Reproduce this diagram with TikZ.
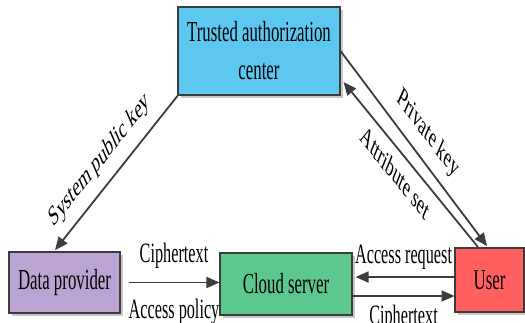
\documentclass[tikz,border=0pt]{standalone}
\usepackage{fontspec}
\setmainfont{Liberation Serif}
\usetikzlibrary{arrows.meta,calc,shadows}
\definecolor{tacblue}{HTML}{5CC8F0}
\definecolor{dpviolet}{HTML}{BBA3D3}
\definecolor{csgreen}{HTML}{5CC88E}
\definecolor{userred}{HTML}{FF5F5F}
\definecolor{edgegray}{HTML}{3C3C3C}
\begin{document}
\begin{tikzpicture}[x=1.7241pt,y=-1pt,xscale=0.58,transform shape,
  box/.style={draw=edgegray,line width=1.8pt,inner sep=0pt,align=center,
    font=\fontsize{29}{38}\selectfont,
    drop shadow={shadow xshift=3pt,shadow yshift=-3pt,fill=black!22,opacity=1}},
  arr/.style={draw=edgegray,line width=1.8pt,-{Triangle[length=13pt,width=11pt]}},
  lbl/.style={font=\fontsize{28}{32}\selectfont,inner sep=0pt}]
\useasboundingbox (0,0) rectangle (525,322);
\node[box,fill=tacblue,minimum width=279.3pt,minimum height=88pt] (tac) at (259,51) {Trusted authorization\\center};
\node[box,fill=dpviolet,minimum width=191.4pt,minimum height=61pt] (dp) at (64.5,282.5) {Data provider};
\node[box,fill=csgreen,minimum width=227.6pt,minimum height=62pt] (cs) at (286,284) {Cloud server};
\node[box,fill=userred,minimum width=119pt,minimum height=64pt] (user) at (489.5,280) {User};
% diagonal connectors
\draw[arr] (tac.south west) -- node[lbl,pos=0.559,rotate=36.5,anchor=south,inner ysep=13pt]{System public key} ($(dp.north)+(-9.5,-1)$);
\draw[arr] (tac.east) -- node[lbl,pos=0.532,rotate=-37.6,anchor=south,inner ysep=12.7pt]{Private key} ($(user.north)+(-2.5,-1)$);
\draw[arr] ($(user.north)+(-11.5,0)$) -- node[lbl,pos=0.558,rotate=-35.5,anchor=north,inner ysep=10.7pt]{Attribute set} ($(tac.east)+(3,31)$);
% horizontal connectors
\coordinate (c1) at ($(dp.east)+(8,0)$);
\draw[arr] (c1) -- node[lbl,anchor=base,yshift=20.5pt]{Ciphertext} node[lbl,anchor=base,yshift=-35.5pt]{Access policy} (c1 -| cs.west);
\coordinate (c2) at ($(user.west)+(0,-3)$);
\draw[arr,shorten >=3pt] (c2) -- node[lbl,anchor=base,yshift=14pt]{Access request} (c2 -| cs.east);
\coordinate (c3) at ($(cs.east)+(0,12)$);
\draw[arr] (c3) -- node[lbl,anchor=base,yshift=-28pt]{Ciphertext} (c3 -| user.west);
\end{tikzpicture}
\end{document}
